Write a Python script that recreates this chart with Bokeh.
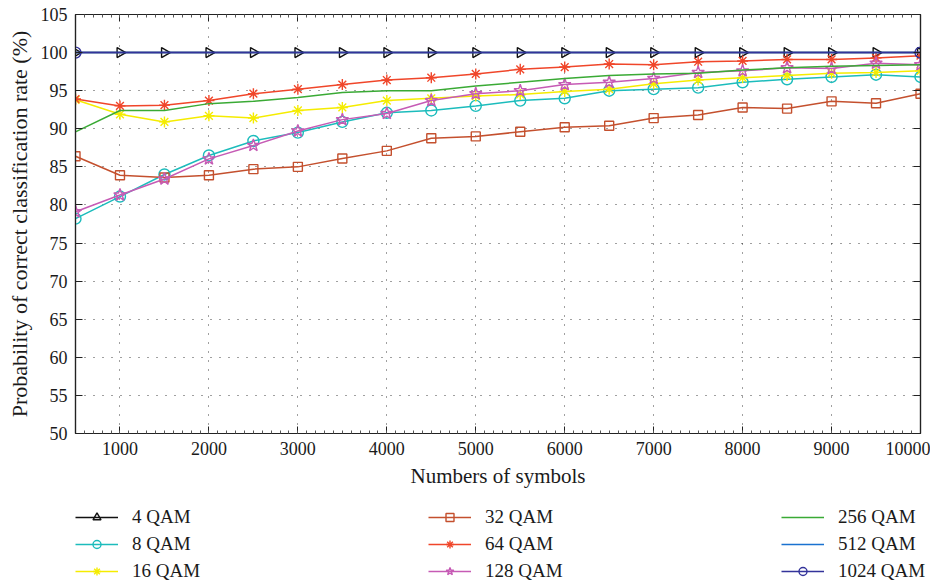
import numpy as np
from bokeh.plotting import figure
from bokeh.layouts import column
from bokeh.models import (Range1d, FixedTicker, LinearAxis, Legend, LegendItem,
                          CustomJSTickFormatter)
from bokeh.embed import file_html
from bokeh.resources import INLINE

# ---------------- data ----------------
symbols = [500, 1000, 1500, 2000, 2500, 3000, 3500, 4000, 4500, 5000,
           5500, 6000, 6500, 7000, 7500, 8000, 8500, 9000, 9500, 10000]
qam4 = [100, 100, 100, 100, 100, 100, 100, 100, 100, 100,
        100, 100, 100, 100, 100, 100, 100, 100, 100, 100]
qam8 = [78.2, 81.1, 84.0, 86.5, 88.4, 89.5, 90.9, 92.1, 92.4, 93.0,
        93.7, 94.0, 95.0, 95.2, 95.4, 96.1, 96.5, 96.8, 97.1, 96.8]
qam16 = [93.8, 91.9, 90.9, 91.7, 91.4, 92.4, 92.8, 93.7, 94.0, 94.3,
         94.5, 94.9, 95.2, 95.9, 96.4, 96.7, 97.0, 97.3, 97.4, 97.6]
qam32 = [86.4, 83.9, 83.6, 83.9, 84.7, 85.0, 86.1, 87.1, 88.75, 89.0,
         89.6, 90.2, 90.4, 91.4, 91.8, 92.8, 92.65, 93.6, 93.35, 94.6]
qam64 = [93.9, 93.0, 93.1, 93.7, 94.6, 95.2, 95.8, 96.4, 96.7, 97.2,
         97.8, 98.1, 98.5, 98.4, 98.8, 98.9, 99.1, 99.1, 99.3, 99.6]
qam128 = [79.1, 81.3, 83.4, 86.05, 87.8, 89.7, 91.2, 92.0, 93.7, 94.6,
          95.0, 95.8, 96.1, 96.6, 97.4, 97.6, 98.0, 97.9, 98.6, 98.4]
qam256 = [89.6, 92.4, 92.4, 93.3, 93.6, 94.1, 94.75, 95.0, 95.0, 95.6,
          96.1, 96.6, 97.0, 97.2, 97.3, 97.7, 98.0, 98.2, 98.3, 98.4]
qam512 = [100, 100, 100, 100, 100, 100, 100, 100, 100, 100,
          100, 100, 100, 100, 100, 100, 100, 100, 100, 100]
symbols_1024 = [500, 10000]
qam1024 = [100, 100]

x_ticks = [1000, 2000, 3000, 4000, 5000, 6000, 7000, 8000, 9000, 10000]
y_ticks = [50, 55, 60, 65, 70, 75, 80, 85, 90, 95, 100, 105]
x_minor = list(range(500, 10001, 100))

FONT = "Liberation Serif"

p = figure(width=930, height=496,
           x_range=Range1d(500, 10000), y_range=Range1d(50, 105),
           output_backend="svg", toolbar_location=None,
           min_border_left=75, min_border_top=14, min_border_right=10,
           min_border_bottom=63,
           background_fill_color="white", border_fill_color="white")
p.outline_line_color = "#222222"
p.outline_line_width = 1.2

# axes
xt = FixedTicker(ticks=x_ticks, minor_ticks=x_minor)
yt = FixedTicker(ticks=y_ticks, minor_ticks=[])
p.xaxis.ticker = xt
p.yaxis.ticker = yt
for ax in (p.xaxis[0], p.yaxis[0]):
    ax.major_tick_in = 7
    ax.major_tick_out = 0
    ax.minor_tick_in = 3
    ax.minor_tick_out = 0
    ax.axis_line_color = "#222222"
    ax.axis_line_width = 1.2
    ax.major_tick_line_color = "#222222"
    ax.minor_tick_line_color = "#555555"
    ax.major_label_text_font = FONT
    ax.major_label_text_font_size = "18px"
    ax.major_label_text_color = "#1a1a1a"
    ax.axis_label_text_font = FONT
    ax.axis_label_text_font_style = "normal"
    ax.axis_label_text_color = "#1a1a1a"
    ax.major_label_standoff = 8
    ax.axis_label_standoff = 6
p.xaxis.axis_label = "Numbers of symbols"
p.yaxis.axis_label = "Probability of correct classification rate (%)"
p.xaxis.axis_label_text_font_size = "21px"
p.yaxis.axis_label_text_font_size = "22px"

blank = CustomJSTickFormatter(code="return '';")
top_ax = LinearAxis(ticker=xt, formatter=blank)
right_ax = LinearAxis(ticker=yt, formatter=blank)
for ax in (top_ax, right_ax):
    ax.major_tick_in = 7
    ax.major_tick_out = 0
    ax.minor_tick_in = 3
    ax.minor_tick_out = 0
    ax.axis_line_color = "#222222"
    ax.axis_line_width = 1.2
    ax.major_tick_line_color = "#222222"
    ax.minor_tick_line_color = "#555555"
    ax.major_label_standoff = 0
p.add_layout(top_ax, "above")
p.add_layout(right_ax, "right")

# grid
for g in (p.xgrid[0], p.ygrid[0]):
    g.grid_line_color = "#000000"
    g.grid_line_alpha = 0.75
    g.grid_line_dash = "1 8"
    g.grid_line_width = 1
p.xgrid.ticker = xt
p.ygrid.ticker = yt

# legend panel (separate figure below the chart, its own legend)
pl = figure(width=944, height=88, x_range=Range1d(0, 1), y_range=Range1d(0, 1),
            x_axis_type=None, y_axis_type=None,
            output_backend="svg", toolbar_location=None,
            min_border_left=0, min_border_right=0, min_border_top=0,
            min_border_bottom=0, outline_line_color=None,
            background_fill_color="white", border_fill_color="white")
pl.xgrid.visible = False
pl.ygrid.visible = False

items = []


def series(label, xs, ys, color, marker=None, size=10, angle=0.0):
    p.line(xs, ys, line_color=color, line_width=1.5)
    if marker is not None:
        p.scatter(xs, ys, marker=marker, size=size, angle=angle,
                  line_color=color, fill_color=None, line_width=1.4)
    # legend entry: same series in the legend panel (outside its visible range)
    rs = [pl.line(xs, ys, line_color=color, line_width=1.5)]
    if marker is not None:
        rs.append(pl.scatter(xs, ys, marker=marker, size=size,
                             line_color=color, fill_color=None, line_width=1.4))
    items.append(LegendItem(label=label, renderers=rs))


series("4 QAM", symbols, qam4, "#111111", "triangle", 10, -np.pi / 2)
series("8 QAM", symbols, qam8, "#1cbcbc", "circle", 11)
series("16 QAM", symbols, qam16, "#f5ec00", "asterisk", 11)
series("32 QAM", symbols, qam32, "#c4502e", "square", 9)
series("64 QAM", symbols, qam64, "#f0462a", "asterisk", 11)
series("128 QAM", symbols, qam128, "#c65bb5", "star", 13)
series("256 QAM", symbols, qam256, "#3aaa35")
series("512 QAM", symbols, qam512, "#1a72d0")
series("1024 QAM", symbols_1024, qam1024, "#33339a", "circle", 11)

legend = Legend(items=items, orientation="vertical", nrows=3,
                location=(0, 2),
                glyph_width=43, glyph_height=20, label_height=20,
                label_width=60, label_standoff=14, spacing=5,
                padding=0, margin=0,
                label_text_font=FONT, label_text_font_size="19px",
                label_text_color="#1a1a1a",
                border_line_color=None, background_fill_alpha=0)
# column widths: per-column label boxes sized so the columns sit 353px apart
legend.label_width = 291
pl.add_layout(legend, "center")

layout = column(p, pl, spacing=0)
open("out.html", "w").write(file_html(layout, INLINE))
